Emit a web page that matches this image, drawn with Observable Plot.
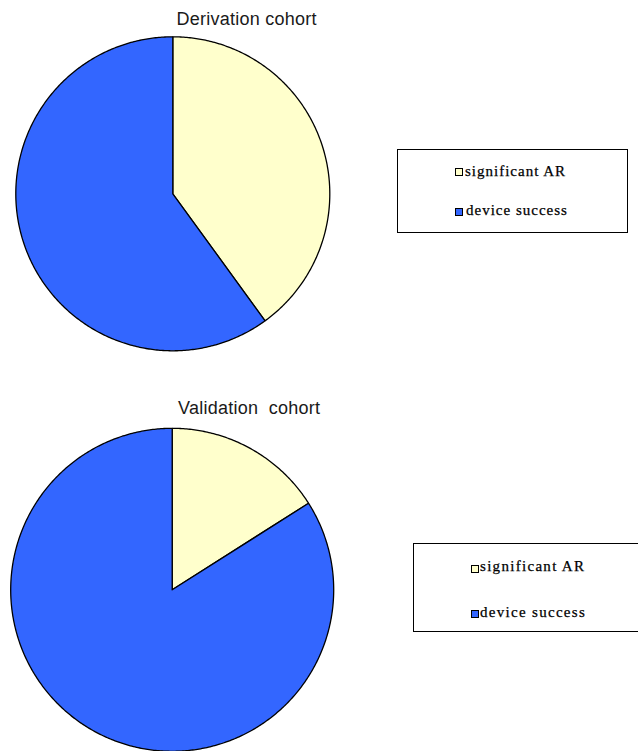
<!DOCTYPE html>
<html>
<head>
<meta charset="utf-8">
<script src="https://cdn.jsdelivr.net/npm/d3@7"></script>
<script src="https://cdn.jsdelivr.net/npm/@observablehq/plot@0.6"></script>
<style>
  html, body { margin: 0; padding: 0; background: #fff; }
  body { width: 638px; height: 751px; position: relative; overflow: hidden; }
  .abs { position: absolute; white-space: pre; }
  .title { font-family: "Liberation Sans", Arial, sans-serif; font-size: 18px; line-height: 18px; letter-spacing: 0.25px; color: #1a1a1a; }
  .legend { position: absolute; box-sizing: border-box; border: 1.8px solid #000; background: #fff; }
  .sw { position: absolute; box-sizing: border-box; width: 8px; height: 8px; border: 1.2px solid #000; }
  .lt { position: absolute; white-space: pre; font-family: "Liberation Serif", "Times New Roman", serif; font-size: 15px; line-height: 15px; letter-spacing: 1px; color: #000; -webkit-text-stroke: 0.25px #000; }
</style>
</head>
<body>
<script>
// ---- data ----
const categories = ["significant AR", "device success"];
const colors = ["#FFFFCC", "#3366FF"];
const derivationValues = [40, 60];
const validationValues = [16, 84];
const titles = ["Derivation cohort", "Validation  cohort"];

function slicePolys(values) {
  const arcs = d3.pie().sort(null)(values);
  const pts = [];
  arcs.forEach((a, i) => {
    const cat = categories[i];
    pts.push({cat, x: 0, y: 0});
    const n = Math.max(2, Math.ceil((a.endAngle - a.startAngle) / 0.01));
    for (let k = 0; k <= n; k++) {
      const t = a.startAngle + (a.endAngle - a.startAngle) * k / n;
      pts.push({cat, x: Math.sin(t), y: Math.cos(t)});
    }
    pts.push({cat, x: 0, y: 0});
  });
  return pts;
}

function pie(values, opts) {
  return Plot.plot({
    width: opts.width, height: opts.height,
    marginLeft: opts.ml, marginRight: opts.mr, marginTop: opts.mt, marginBottom: opts.mb,
    x: {domain: [-1, 1], axis: null},
    y: {domain: [-1, 1], axis: null},
    color: {domain: categories, range: colors},
    style: {background: "transparent", overflow: "visible"},
    marks: [
      Plot.line(slicePolys(values), {x: "x", y: "y", z: "cat", fill: "cat", stroke: "#000", strokeWidth: 1.3, strokeLinejoin: "round", curve: "linear"})
    ]
  });
}

function place(el, left, top) {
  el.style.position = "absolute";
  el.style.left = left + "px";
  el.style.top = top + "px";
  document.body.appendChild(el);
}

// top pie: center (172.3,193.3), r 157
place(pie(derivationValues, {width: 345, height: 360, ml: 15.3, mr: 15.7, mt: 36.3, mb: 9.7}), 0, 0);
// bottom pie: center (171.7,589.3), r 161.5
place(pie(validationValues, {width: 345, height: 361, ml: 10.2, mr: 11.8, mt: 37.8, mb: 0.2}), 0, 390);

function addTitle(text, left, baseline) {
  const d = document.createElement("div");
  d.className = "abs title";
  d.textContent = text;
  place(d, left, baseline - 15.2);
}
addTitle(titles[0], 176.5, 25);
addTitle(titles[1], 178, 414.5);

function addLegend(box, items) {
  const b = document.createElement("div");
  b.className = "legend";
  b.style.width = box.w + "px";
  b.style.height = box.h + "px";
  place(b, box.x, box.y);
  items.forEach((it, i) => {
    const s = document.createElement("div");
    s.className = "sw";
    s.style.background = colors[i];
    place(s, it.sx, it.sy);
    const t = document.createElement("div");
    t.className = "lt";
    t.textContent = categories[i];
    if (it.ls) t.style.letterSpacing = it.ls + "px";
    place(t, it.tx, it.base - 12.6);
  });
}
addLegend({x: 397, y: 149, w: 231, h: 84}, [
  {sx: 455, sy: 167.5, tx: 465, base: 177},
  {sx: 455, sy: 208, tx: 466, base: 216}
]);
addLegend({x: 413, y: 543, w: 240, h: 89}, [
  {sx: 470.5, sy: 565, tx: 480, base: 572, ls: 1.3},
  {sx: 470.5, sy: 610, tx: 480, base: 617.5, ls: 1.3}
]);
</script>
</body>
</html>
